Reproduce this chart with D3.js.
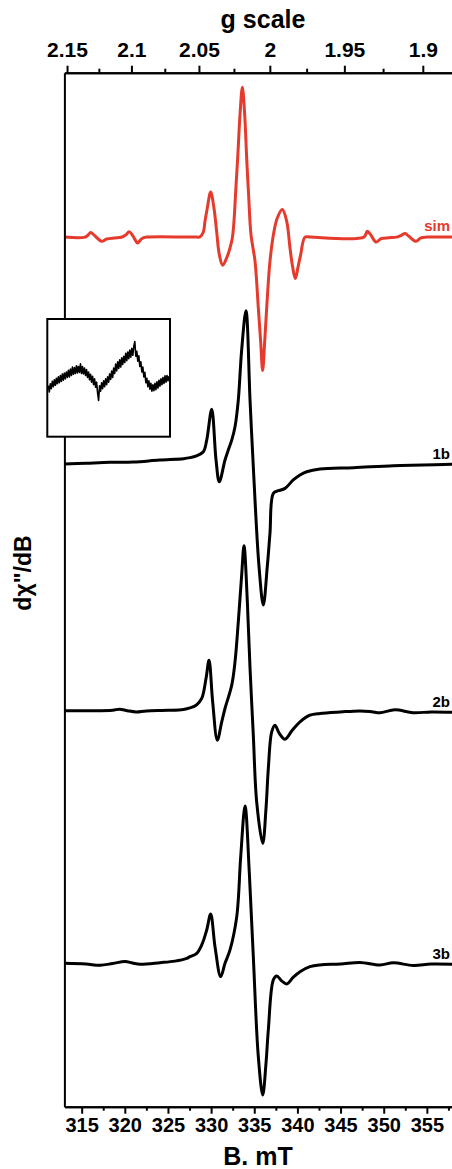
<!DOCTYPE html>
<html>
<head>
<meta charset="utf-8">
<script src="https://cdn.jsdelivr.net/npm/d3@7"></script>
<style>
  body { margin: 0; background: #fff; }
  svg { display: block; }
  text { font-family: "Liberation Sans", Arial, sans-serif; font-weight: bold; }
</style>
</head>
<body>
<svg id="chart" width="452" height="1169"></svg>
<script>
// ---- Field axis (mT) ----
const fieldDomain = [313, 358];
const fieldTicks = [315, 320, 325, 330, 335, 340, 345, 350, 355];
const fieldMinorTicks = [317.5, 322.5, 327.5, 332.5, 337.5, 342.5, 347.5, 352.5, 357.5];

// ---- g-value axis ----
const microwaveGHz = 9.428;
const gTicks = [2.15, 2.1, 2.05, 2, 1.95, 1.9];
const gTickLabels = ["2.15", "2.1", "2.05", "2", "1.95", "1.9"];
const gMinorTicks = [2.125, 2.075, 2.025, 1.975, 1.925];

// ---- Spectra: names, vertical offsets (a.u.) ----
const seriesNames = ["sim", "1b", "2b", "3b"];
const seriesOffsets = [84.1, 62.25, 38.3, 13.9];

// simulated spectrum
const simField = [313.0, 315.4, 315.75, 316.05, 316.5, 317.32, 317.9, 318.8, 319.6, 320.1, 320.52, 320.95,
  321.49, 321.95, 322.54, 328.3, 328.71, 329.10, 329.29, 329.56, 329.95, 330.33, 330.64, 330.95, 331.34,
  331.88, 332.19, 332.46, 332.65, 332.85, 333.08, 333.35, 333.62, 333.89, 334.12, 334.35, 334.62, 335.09,
  335.47, 335.74, 335.97, 336.21, 336.44, 336.82, 337.29, 337.67, 338.25, 338.76, 339.14, 339.45, 339.76,
  340.07, 340.38, 340.88, 341.5, 347.7, 348.10, 348.55, 349.11, 349.7, 350.6, 351.5, 352.1, 352.47,
  352.95, 353.74, 354.3, 355.0, 358.0];
const simSignal = [0, 0, 0.2, 0.44, 0.15, -0.41, -0.18, -0.08, -0.02, 0.2, 0.53, 0.1,
  -0.56, -0.15, 0, 0, 0.02, 0.5, 1.53, 2.82, 4.37, 2.82, 0.56, -1.69, -2.72,
  -1.85, -1.05, -0.08, 1.53, 4.43, 7.66, 11.85, 14.49, 11.85, 7.66, 4.0, 0.24, -2.34,
  -6.85, -10.07, -12.91, -10.07, -6.85, -2.34, 0.56, 1.85, 2.66, 1.53, -1.05, -2.9, -4.01,
  -2.9, -1.69, 0, 0, 0, 0.56, 0.15, -0.48, -0.15, -0.06, 0, 0.2, 0.34,
  0.05, -0.40, -0.08, 0, 0];

// sample 1b
const s1bField = [313.0, 315.5, 318.3, 321.0, 324.0, 326.8, 327.55, 328.3,
  329.1, 329.49, 330.07, 330.57, 330.95, 331.61, 331.99, 332.39, 332.77, 333.15, 333.54, 334.04, 334.51,
  334.89, 335.55, 336.05, 336.51, 336.82, 337.21, 337.79, 338.56, 339.52, 340.3, 341.08, 342.62,
  346.5, 351.11, 354.5, 358.0];
const s1bSignal = [-0.1, -0.02, 0.07, 0.1, 0.29, 0.42, 0.52, 0.7,
  1.09, 2.22, 5.19, 0.29, -1.81, 0.29, 1.26, 2.22, 3.51, 6.09, 10.93, 14.73, 6.09,
  -0.36, -10.0, -13.73, -10.0, -6.8, -2.93, -2.68, -2.45, -1.64, -1.15, -0.84, -0.58,
  -0.45, -0.26, -0.2, -0.12];

// sample 2b
const s2bField = [313.0, 316.0, 318.6, 319.4, 320.3, 321.3, 322.5, 325.0, 326.8, 327.55,
  328.3, 328.91, 329.41, 329.76, 330.18, 330.72, 331.23, 331.61, 332.39, 332.77, 333.15, 333.54, 333.81,
  334.2, 334.51, 334.89, 335.28, 335.98, 336.36, 336.63, 337.02, 337.40, 337.9, 338.56, 339.4, 340.30,
  341.46, 342.62, 345.0, 347.25, 348.6, 349.57, 351.3, 353.4, 355.5, 358.0];
const s2bSignal = [0.0, 0.0, 0.05, 0.15, 0.0, -0.12, -0.02, 0.03, 0.12, 0.27,
  0.55, 1.18, 3.11, 4.88, 0.85, -2.85, -1.08, 0.21, 2.47, 4.72, 8.59, 13.1, 15.94,
  10.52, 4.11, -2.37, -8.82, -12.84, -9.46, -5.59, -2.05, -1.40, -2.2, -2.76, -1.9, -1.08,
  -0.44, -0.27, -0.12, -0.02, -0.1, -0.2, 0.08, -0.2, -0.12, -0.15];

// sample 3b
const s3bField = [313.0, 315.5, 317.13, 318.6, 320.02, 320.9, 321.76, 324.08, 325.8,
  327.17, 327.55, 328.3, 328.91, 329.49, 329.95, 330.45, 331.11, 331.61, 332.19, 332.97, 333.43, 333.93,
  334.43, 334.89, 335.47, 335.98, 336.36, 336.63, 337.21, 337.60, 338.2, 338.76, 339.5, 340.30, 341.46,
  342.62, 345.0, 347.25, 349.57, 351.11, 353.43, 355.5, 358.0];
const s3bSignal = [-0.03, -0.1, -0.22, -0.05, 0.14, 0.0, -0.12, 0.03, 0.18,
  0.45, 0.61, 0.9, 1.74, 3.19, 4.74, 1.58, -1.32, -0.03, 1.26, 4.48, 10.28, 15.18,
  8.67, 0.61, -9.06, -12.77, -9.7, -6.48, -1.64, -1.26, -1.75, -2.03, -1.4, -0.84, -0.36,
  -0.19, -0.1, 0.05, -0.2, 0.02, -0.25, -0.1, -0.13];

// magnified baseline segment shown in the inset (a.u.)
const insetSignal = [-0.40, -0.72, -0.30, -0.55, -0.18, -0.45, -0.10, -0.38, -0.02, -0.30,
  0.05, -0.25, 0.12, -0.18, 0.20, -0.12, 0.25, -0.05, 0.30, 0.02,
  0.38, 0.05, 0.45, 0.12, 0.55, 0.18, 0.52, 0.22, 0.62, 0.25,
  0.58, 0.28, 0.72, 0.22, 0.58, 0.20, 0.50, 0.12, 0.42, 0.02,
  0.30, -0.10, 0.18, -0.22, 0.08, -0.35, -0.05, -0.48, -0.22, -0.75,
  -1.15, -0.40, -0.68, -0.25, -0.55, -0.15, -0.45, -0.05, -0.35, 0.05,
  -0.22, 0.20, -0.08, 0.35, 0.02, 0.50, 0.22, 0.70, 0.35, 0.82,
  0.48, 0.92, 0.55, 1.02, 0.68, 1.10, 0.78, 1.25, 0.88, 1.32,
  0.98, 1.42, 1.05, 1.50, 1.15, 1.62, 1.85, 1.10, 1.35, 0.85,
  1.12, 0.58, 0.82, 0.30, 0.55, 0.05, 0.28, -0.25, -0.02, -0.45,
  -0.15, -0.58, -0.28, -0.68, -0.35, -0.65, -0.28, -0.60, -0.20, -0.52,
  -0.12, -0.42, -0.05, -0.35, 0.02, -0.28, 0.10, -0.22, 0.12, -0.15, 0.08];

const seriesData = [
  d3.zip(simField, simSignal),
  d3.zip(s1bField, s1bSignal),
  d3.zip(s2bField, s2bSignal),
  d3.zip(s3bField, s3bSignal)
];
const seriesColors = ["#e63a2c", "#000", "#000", "#000"];

// ---- layout ----
const svg = d3.select("#chart");
const W = 452, H = 1169;
const plot = { left: 64.4, right: 452.75, top: 72.7, bottom: 1106.7 };
svg.append("rect").attr("width", W).attr("height", H).attr("fill", "#fff");

const x = d3.scaleLinear().domain(fieldDomain).range([plot.left, plot.right]);
const y = d3.scaleLinear().domain([0, 100]).range([plot.bottom, plot.top]);

// resonance field (mT) for a given g value
const fieldAt = g => microwaveGHz * 71.4477 / g;

svg.append("clipPath").attr("id", "plotClip")
  .append("rect")
  .attr("x", plot.left).attr("y", plot.top - 2)
  .attr("width", plot.right - plot.left).attr("height", plot.bottom - plot.top + 4);

// ---- spectra ----
const line = d3.line()
  .x(d => x(d[0]))
  .curve(d3.curveCatmullRom.alpha(0.5));

const traces = svg.append("g").attr("clip-path", "url(#plotClip)");
seriesData.forEach((data, i) => {
  traces.append("path")
    .datum(data)
    .attr("fill", "none")
    .attr("stroke", seriesColors[i])
    .attr("stroke-width", 3)
    .attr("stroke-linejoin", "round")
    .attr("d", line.y(d => y(seriesOffsets[i] + d[1])));
});

// trace labels at the right edge
const labelDy = [-6, -5, -5, -5];
seriesNames.forEach((name, i) => {
  const last = seriesData[i][seriesData[i].length - 1];
  svg.append("text")
    .attr("x", 450)
    .attr("y", y(seriesOffsets[i] + last[1]) + labelDy[i])
    .attr("text-anchor", "end")
    .attr("font-size", 15)
    .attr("fill", seriesColors[i])
    .text(name);
});

// ---- axes ----
function styleAxis(g, fontSize) {
  g.attr("font-family", null).attr("font-size", null);
  g.selectAll(".domain").attr("stroke", "#000").attr("stroke-width", 2);
  g.selectAll(".tick line").attr("stroke", "#000").attr("stroke-width", 2);
  g.selectAll(".tick text").attr("fill", "#000").attr("font-size", fontSize);
}

// left frame line
svg.append("g")
  .attr("transform", `translate(${plot.left},0)`)
  .call(d3.axisLeft(y).tickValues([]).tickSizeOuter(0))
  .call(g => styleAxis(g, 0));

// bottom field axis
svg.append("g")
  .attr("transform", `translate(0,${plot.bottom})`)
  .call(d3.axisBottom(x).tickValues(fieldMinorTicks).tickSize(4).tickFormat("").tickSizeOuter(0))
  .call(g => styleAxis(g, 0));
svg.append("g")
  .attr("transform", `translate(0,${plot.bottom})`)
  .call(d3.axisBottom(x).tickValues(fieldTicks).tickSize(7).tickPadding(4.3)
    .tickFormat(d3.format("d")).tickSizeOuter(0))
  .call(g => styleAxis(g, 20));

// top g-value axis
svg.append("g")
  .attr("transform", `translate(0,${plot.top})`)
  .call(d3.axisTop(x).tickValues(gMinorTicks.map(fieldAt)).tickSize(4).tickFormat("").tickSizeOuter(0))
  .call(g => styleAxis(g, 0));
svg.append("g")
  .attr("transform", `translate(0,${plot.top})`)
  .call(d3.axisTop(x).tickValues(gTicks.map(fieldAt)).tickSize(7).tickPadding(8.7)
    .tickFormat((d, i) => gTickLabels[i]).tickSizeOuter(0))
  .call(g => styleAxis(g, 21));

// axis titles
svg.append("text")
  .attr("x", 263).attr("y", 28)
  .attr("text-anchor", "middle").attr("font-size", 25)
  .text("g scale");
svg.append("text")
  .attr("x", 258).attr("y", 1165)
  .attr("text-anchor", "middle").attr("font-size", 25)
  .text("B. mT");
svg.append("text")
  .attr("transform", "translate(31,573) rotate(-90)")
  .attr("text-anchor", "middle").attr("font-size", 23)
  .text("dχ\"/dB");

// ---- inset ----
const inset = { x: 47.3, y: 319, w: 122.7, h: 117.7 };
const insetG = svg.append("g");
insetG.append("rect")
  .attr("x", inset.x).attr("y", inset.y)
  .attr("width", inset.w).attr("height", inset.h)
  .attr("fill", "#fff").attr("stroke", "#000").attr("stroke-width", 2);
const ix = d3.scaleLinear().domain([0, insetSignal.length - 1]).range([inset.x + 1, inset.x + inset.w - 1]);
const iy = d3.scaleLinear().domain([-3, 3]).range([inset.y + inset.h, inset.y]);
insetG.append("path")
  .datum(insetSignal)
  .attr("fill", "none")
  .attr("stroke", "#000")
  .attr("stroke-width", 1.6)
  .attr("stroke-linejoin", "round")
  .attr("d", d3.line().x((d, i) => ix(i)).y(d => iy(d)));
</script>
</body>
</html>
